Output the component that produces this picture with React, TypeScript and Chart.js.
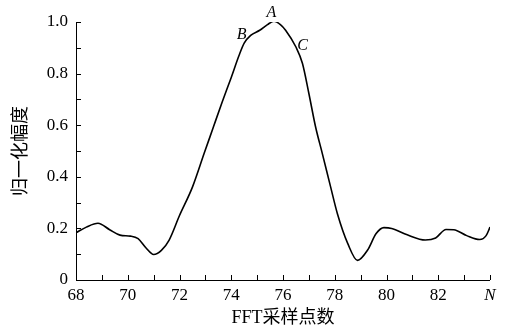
import React, { useEffect, useRef } from 'react';
import { Chart, registerables } from 'chart.js';

Chart.register(...registerables);

// FFT sample index (x) and normalized amplitude (y)
const sampleIndex = [
  68.0, 68.4, 68.85, 69.3, 69.7, 70.1, 70.4, 70.7, 71.0, 71.3, 71.6, 72.0, 72.5, 72.95,
  73.3, 73.65, 74.0, 74.3, 74.5, 74.75, 75.1, 75.4, 75.65, 75.9, 76.1, 76.5, 76.75, 77.0,
  77.26, 77.52, 77.84, 78.1, 78.5, 78.88, 79.27, 79.6, 79.9, 80.2, 80.8, 81.5, 81.9, 82.3,
  82.6, 83.1, 83.6, 83.85, 84.0,
];
const amplitude = [
  0.183, 0.205, 0.22, 0.195, 0.174, 0.17, 0.16, 0.125, 0.099, 0.115, 0.155, 0.25, 0.36, 0.49,
  0.59, 0.69, 0.785, 0.87, 0.918, 0.948, 0.968, 0.99, 1.003, 0.99, 0.968, 0.903, 0.84, 0.723,
  0.593, 0.49, 0.361, 0.258, 0.142, 0.076, 0.116, 0.18, 0.203, 0.2, 0.175, 0.155, 0.163, 0.196,
  0.195, 0.172, 0.157, 0.172, 0.205,
];

const xMin = 68;
const xMax = 84;
const xLabelStep = 2;
const xMinorStep = 1;
const yMin = 0;
const yMax = 1;
const yLabelStep = 0.2;
const yMinorStep = 0.1;

const annotationText = ['A', 'B', 'C'];
const annotationX = [75.55, 74.4, 76.76];
const annotationY = [1.037, 0.952, 0.906];

const xTitle = 'FFT采样点数';
const yTitle = '归一化幅度';

const SERIF = '"Liberation Serif", "Times New Roman", serif';
const TITLE_FONT = '18px "Liberation Serif", "Noto Sans CJK SC", serif';

const decorPlugin = {
  id: 'decor',
  afterDraw(chart: any) {
    const { ctx, chartArea, scales } = chart;
    const xs = scales.x;
    const ys = scales.y;
    ctx.save();
    ctx.strokeStyle = '#000';
    ctx.lineWidth = 1;
    // axis lines
    ctx.beginPath();
    ctx.moveTo(chartArea.left + 0.5, chartArea.top);
    ctx.lineTo(chartArea.left + 0.5, chartArea.bottom + 0.5);
    ctx.lineTo(chartArea.right, chartArea.bottom + 0.5);
    ctx.stroke();
    // inward ticks
    ctx.beginPath();
    for (let v = xMin; v <= xMax + 1e-9; v += xMinorStep) {
      const px = Math.round(xs.getPixelForValue(v)) + 0.5;
      ctx.moveTo(px, chartArea.bottom);
      ctx.lineTo(px, chartArea.bottom - 5);
    }
    for (let i = 0; i <= Math.round((yMax - yMin) / yMinorStep); i++) {
      const v = yMin + i * yMinorStep;
      const py = Math.round(ys.getPixelForValue(v)) + 0.5;
      ctx.moveTo(chartArea.left, py);
      ctx.lineTo(chartArea.left + 5, py);
    }
    ctx.stroke();
    // annotations
    ctx.fillStyle = '#000';
    ctx.font = 'italic 16px ' + SERIF;
    ctx.textAlign = 'center';
    ctx.textBaseline = 'middle';
    annotationText.forEach((t, i) => {
      ctx.fillText(t, xs.getPixelForValue(annotationX[i]), ys.getPixelForValue(annotationY[i]));
    });
    // axis titles
    ctx.font = TITLE_FONT;
    ctx.fillText(xTitle, (chartArea.left + chartArea.right) / 2, 318);
    ctx.translate(21, (chartArea.top + chartArea.bottom) / 2);
    ctx.rotate(-Math.PI / 2);
    ctx.fillText(yTitle, 0, 0);
    ctx.restore();
  },
};

export default function App() {
  const canvasRef = useRef<HTMLCanvasElement | null>(null);

  useEffect(() => {
    const canvas = canvasRef.current;
    if (!canvas) return;
    const points = sampleIndex.map((x, i) => ({ x, y: amplitude[i] }));
    const chart = new Chart(canvas, {
      type: 'line',
      data: {
        datasets: [
          {
            data: points,
            borderColor: '#000',
            borderWidth: 1.6,
            pointRadius: 0,
            fill: false,
            cubicInterpolationMode: 'monotone',
          },
        ],
      },
      options: {
        animation: false,
        responsive: false,
        devicePixelRatio: 1,
        layout: { padding: { left: 0, right: 19, top: 22, bottom: 0 } },
        plugins: { legend: { display: false }, tooltip: { enabled: false } },
        scales: {
          x: {
            type: 'linear',
            min: xMin,
            max: xMax,
            grid: { display: false, drawTicks: false },
            border: { display: false },
            ticks: {
              stepSize: xLabelStep,
              autoSkip: false,
              maxRotation: 0,
              padding: 5,
              color: '#000',
              font: (c: any) =>
                c.tick && c.tick.value === xMax
                  ? { family: SERIF, size: 17, style: 'italic' }
                  : { family: SERIF, size: 17 },
              callback: (v: any) => (Number(v) === xMax ? 'N' : String(v)),
            },
            afterFit: (s: any) => {
              s.height = 48;
            },
          },
          y: {
            min: yMin,
            max: yMax,
            grid: { display: false, drawTicks: false },
            border: { display: false },
            ticks: {
              stepSize: yLabelStep,
              padding: 8,
              color: '#000',
              font: { family: SERIF, size: 17 },
              callback: (v: any) => (Number(v) === 0 ? '0' : Number(v).toFixed(1)),
            },
            afterFit: (s: any) => {
              s.width = 76;
            },
          },
        },
      },
      plugins: [decorPlugin],
    });
    let alive = true;
    const fonts: any = (document as any).fonts;
    if (fonts && fonts.load) {
      Promise.all([
        fonts.load('17px "Liberation Serif"', '0123456789.FT'),
        fonts.load('italic 17px "Liberation Serif"', 'ABCN'),
        fonts.load('18px "Noto Sans CJK SC"', xTitle + yTitle),
      ])
        .catch(() => null)
        .then(() => {
          if (alive) chart.update();
        });
    }
    return () => {
      alive = false;
      chart.destroy();
    };
  }, []);

  return (
    <div style={{ position: 'fixed', left: 0, top: 0, width: 509, height: 328, background: '#fff' }}>
      <canvas ref={canvasRef} width={509} height={328} />
    </div>
  );
}
